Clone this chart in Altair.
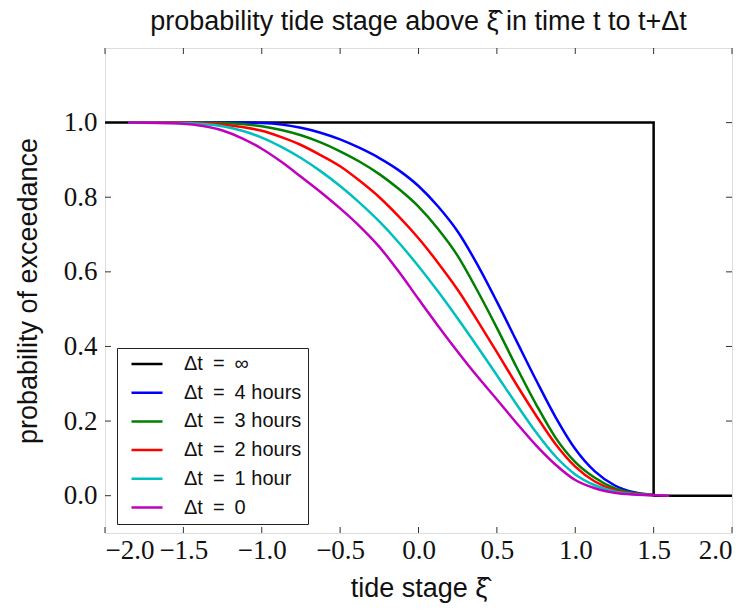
import altair as alt
import pandas as pd

# ---- data ----
x_grid = [-1.85, -1.5, -1.375, -1.25, -1.125, -1.0, -0.875, -0.75, -0.625, -0.5, -0.375,
          -0.25, -0.125, 0.0, 0.125, 0.25, 0.375, 0.5, 0.625, 0.75, 0.875,
          1.0, 1.125, 1.25, 1.375, 1.5]
p_4h = [1.0, 1.0, 1.0, 1.0, 1.0, 0.999, 0.995, 0.986, 0.973, 0.955, 0.932,
        0.905, 0.872, 0.83, 0.775, 0.708, 0.62, 0.52, 0.415, 0.31, 0.21,
        0.125, 0.065, 0.028, 0.009, 0.002]
p_3h = [1.0, 1.0, 1.0, 0.999, 0.996, 0.99, 0.98, 0.966, 0.947, 0.923, 0.895,
        0.862, 0.822, 0.775, 0.715, 0.643, 0.55, 0.45, 0.345, 0.245, 0.155,
        0.09, 0.048, 0.02, 0.007, 0.002]
p_2h = [1.0, 1.0, 0.999, 0.995, 0.988, 0.978, 0.961, 0.94, 0.913, 0.883, 0.844,
        0.80, 0.748, 0.69, 0.624, 0.552, 0.47, 0.385, 0.298, 0.215, 0.138,
        0.078, 0.038, 0.015, 0.005, 0.002]
p_1h = [1.0, 0.999, 0.996, 0.99, 0.978, 0.96, 0.935, 0.905, 0.87, 0.83, 0.785,
        0.735, 0.678, 0.615, 0.547, 0.475, 0.40, 0.323, 0.245, 0.17, 0.105,
        0.057, 0.028, 0.011, 0.004, 0.001]
x_grid0 = x_grid + [1.6]
p_0 = [1.0, 0.997, 0.991, 0.979, 0.958, 0.93, 0.895, 0.855, 0.814, 0.77, 0.722,
       0.667, 0.6, 0.527, 0.455, 0.386, 0.32, 0.258, 0.195, 0.135, 0.083,
       0.042, 0.02, 0.008, 0.003, 0.001, 0.0]

# step function for dt = infinity
x_inf = [-2.0, 1.5, 1.5, 2.0]
p_inf = [1.0, 1.0, 0.0, 0.0]

sp = "\u2002"
labels = [f"\u0394t{sp}={sp}\u221e", f"\u0394t{sp}={sp}4 hours", f"\u0394t{sp}={sp}3 hours",
          f"\u0394t{sp}={sp}2 hours", f"\u0394t{sp}={sp}1 hour", f"\u0394t{sp}={sp}0"]
colors = ["#000000", "#0000ff", "#008000", "#ff0000", "#00bfbf", "#bf00bf"]

x_ticks = [-2.0, -1.5, -1.0, -0.5, 0.0, 0.5, 1.0, 1.5, 2.0]
y_ticks = [0.0, 0.2, 0.4, 0.6, 0.8, 1.0]

# ---- tables ----
rows = []
for lab, xs, ys in [(labels[1], x_grid, p_4h), (labels[2], x_grid, p_3h),
                    (labels[3], x_grid, p_2h), (labels[4], x_grid, p_1h),
                    (labels[5], x_grid0, p_0)]:
    for i, (a, b) in enumerate(zip(xs, ys)):
        rows.append({"series": lab, "xi": a, "p": b, "i": i})
curves = pd.DataFrame(rows)
step = pd.DataFrame({"series": labels[0], "xi": x_inf, "p": p_inf, "i": range(len(x_inf))})
xt = pd.DataFrame({"v": x_ticks})
yt = pd.DataFrame({"v": y_ticks})

W, H = 627, 485
TF = "Liberation Serif"
SF = "Liberation Sans"

xscale = alt.Scale(domain=[-2.0, 2.0], nice=False, zero=False)
yscale = alt.Scale(domain=[-0.1, 1.2], nice=False, zero=False)
color = alt.Color(
    "series:N",
    scale=alt.Scale(domain=labels, range=colors),
    sort=labels,
    legend=alt.Legend(
        title=None, orient="none", legendX=12, legendY=300,
        fillColor="white", strokeColor="#222222", padding=6,
        symbolType="stroke", symbolStrokeWidth=2.5, symbolSize=961,
        symbolOffset=7, clipHeight=20,
        labelFont=SF, labelFontSize=20, labelColor="#111111",
        rowPadding=8.7, labelOffset=20, symbolOpacity=1,
    ),
)

xaxis = alt.Axis(values=x_ticks, format=".1f", labelFont=TF, labelFontSize=27,
                 labelColor="#111", ticks=False, grid=False, domain=False,
                 labelPadding=4, title="tide stage \u03be\u0302", titleFont=SF,
                 titleFontSize=27, titleFontWeight="normal", titleColor="#111",
                 titlePadding=12)
yaxis = alt.Axis(values=y_ticks, format=".1f", labelFont=TF, labelFontSize=27,
                 labelColor="#111", ticks=False, grid=False, domain=False,
                 labelPadding=8, title="probability of exceedance", titleFont=SF,
                 titleFontSize=27, titleFontWeight="normal", titleColor="#111",
                 titlePadding=21)

step_layer = alt.Chart(step).mark_line(strokeWidth=2.5, interpolate="linear").encode(
    x=alt.X("xi:Q", scale=xscale, axis=xaxis),
    y=alt.Y("p:Q", scale=yscale, axis=yaxis),
    color=color,
    order="i:Q",
)
curve_layer = alt.Chart(curves).mark_line(strokeWidth=2.5, interpolate="monotone").encode(
    x=alt.X("xi:Q", scale=xscale),
    y=alt.Y("p:Q", scale=yscale),
    color=color,
    order="i:Q",
)

tk = dict(color="#333333", strokeWidth=1)
xt_bot = alt.Chart(xt).mark_rule(**tk).encode(
    x=alt.X("v:Q", scale=xscale), y=alt.value(H - 6), y2=alt.value(H))
xt_top = alt.Chart(xt).mark_rule(**tk).encode(
    x=alt.X("v:Q", scale=xscale), y=alt.value(0), y2=alt.value(6))
yt_left = alt.Chart(yt).mark_rule(**tk).encode(
    y=alt.Y("v:Q", scale=yscale), x=alt.value(0), x2=alt.value(6))
yt_right = alt.Chart(yt).mark_rule(**tk).encode(
    y=alt.Y("v:Q", scale=yscale), x=alt.value(W - 6), x2=alt.value(W))

chart = alt.layer(xt_bot, xt_top, yt_left, yt_right, step_layer, curve_layer).properties(
    width=W, height=H,
    title=alt.Title("probability tide stage above \u03be\u0302 in time t to t+\u0394t",
                    font=SF, fontSize=27, fontWeight="normal", color="#111",
                    anchor="middle", offset=12),
    autosize=alt.AutoSizeParams(type="none"),
    padding={"left": 105, "top": 48, "right": 16, "bottom": 82},
).configure_view(stroke="#000000", strokeWidth=2).configure(background="white")

chart.save("out.html", embed_options={"renderer": "svg", "actions": False})
